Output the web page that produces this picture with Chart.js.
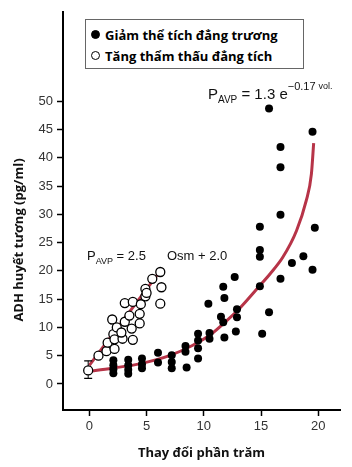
<!DOCTYPE html>
<html>
<head>
<meta charset="utf-8">
<script src="https://cdn.jsdelivr.net/npm/chart.js@4"></script>
<style>
  html, body { margin: 0; padding: 0; background: #fff; }
  #wrap { position: relative; width: 352px; height: 467px; }
  #legend {
    position: absolute; left: 85px; top: 19px; width: 219px; height: 50px;
    border: 1px solid #666; background: #fff; box-sizing: border-box;
    font: bold 13px "Open Sans", sans-serif; color: #000;
  }
  #legend div { position: absolute; left: 19px; white-space: nowrap; line-height: 20px; }
  #legend span {
    position: absolute; left: -14px; top: 5px; width: 9px; height: 9px;
    border-radius: 50%; box-sizing: border-box; border: 1.3px solid #000;
  }
</style>
</head>
<body>
<div id="wrap">
  <canvas id="chart" width="352" height="467"></canvas>
  <div id="legend">
    <div style="top:5px"><span style="background:#000"></span>Giảm thể tích đẳng trương</div>
    <div style="top:26px"><span style="background:#fff"></span>Tăng thẩm thấu đẳng tích</div>
  </div>
</div>
<script>
// Reference data
const xTicks = [0, 5, 10, 15, 20];
const yTicks = [0, 5, 10, 15, 20, 25, 30, 35, 40, 45, 50];

// isovolemic (volume decrease) - filled dots
const volumePts = [
  [2.1, 4.2], [2.1, 3.3], [2.1, 2.6], [2.1, 1.9],
  [3.4, 4.3], [3.4, 3.3], [3.4, 2.5], [3.4, 1.8],
  [4.6, 4.5], [4.6, 3.5], [4.6, 2.8],
  [6.0, 5.5], [6.0, 3.8],
  [7.2, 5.1], [7.2, 3.9], [7.2, 2.8],
  [8.5, 2.9], [8.4, 6.7], [8.4, 5.7],
  [9.5, 8.9], [9.5, 7.7], [9.5, 6.3], [9.5, 4.5],
  [10.4, 14.2], [10.5, 9.0], [10.5, 8.0],
  [11.7, 17.2], [11.8, 15.2], [11.5, 11.9], [11.7, 10.9], [11.8, 8.2],
  [12.7, 18.9], [12.9, 13.2], [12.9, 11.8], [12.8, 9.3],
  [14.9, 27.8], [14.9, 23.7], [14.9, 22.5], [14.9, 17.3], [15.1, 8.9], [15.7, 12.7],
  [15.7, 48.7], [16.7, 41.9], [16.7, 38.3], [16.7, 29.9], [16.7, 18.6],
  [17.7, 21.4], [18.7, 22.6], [19.5, 44.6], [19.7, 27.6], [19.5, 20.2]
];

// isotonic osmolality increase - open circles
const osmPts = [
  [-0.1, 2.4], [0.8, 5.0], [1.5, 5.8], [1.6, 7.3], [2.2, 6.2],
  [2.1, 8.8], [2.2, 7.9], [2.0, 11.4], [2.4, 10.0], [2.9, 8.0], [2.8, 9.1],
  [3.1, 11.0], [3.1, 14.3], [3.8, 14.5], [3.5, 12.1], [3.7, 9.8], [3.8, 7.8],
  [4.4, 12.4], [4.4, 10.7], [4.5, 14.1], [4.9, 15.5], [4.9, 16.8], [5.0, 16.1],
  [5.5, 18.6], [6.2, 19.8], [6.3, 17.1], [6.2, 14.2]
];

// fitted curves
const volumeFit = [
  [-0.2, 2.2], [2, 2.8], [4.5, 3.6], [7, 5.0], [9, 6.8], [10.5, 8.6],
  [12, 11.2], [13.1, 13.3], [14.9, 17.4], [15.8, 19.5], [16.9, 22.4],
  [18.1, 27.1], [18.95, 32.4], [19.4, 37.1], [19.6, 42.6]
];
const osmFit = [[0, 3.3], [6.2, 20.0]];

// error bar at baseline
const errorBar = [[-0.1, 1.0], [-0.1, 4.1]];

const RED = 'rgb(183, 52, 72)';
const FONT = '"Liberation Sans", Arial, sans-serif';
const toXY = arr => arr.map(p => ({ x: p[0], y: p[1] }));

// draw text pieces one after another: [text, size, baseline shift]
function drawRun(ctx, x, y, parts) {
  parts.forEach(([txt, size, dy]) => {
    ctx.font = size + 'px ' + FONT;
    ctx.fillText(txt, x, y + dy);
    x += ctx.measureText(txt).width;
  });
}

const annotations = {
  id: 'annotations',
  afterDraw(chart) {
    const ctx = chart.ctx;
    ctx.save();
    ctx.fillStyle = '#111';
    ctx.textBaseline = 'alphabetic';
    ctx.textAlign = 'left';

    // upper right formula
    drawRun(ctx, 208, 99, [
      ['P', 15, 0], ['AVP', 10, 4], [' = 1.3 e', 15, 0],
      ['\u22120.17 ', 11, -9], ['vol.', 9, -10]
    ]);

    // left formula
    drawRun(ctx, 87, 260, [['P', 13, 0], ['AVP', 9, 4], [' = 2.5', 13, 0]]);
    drawRun(ctx, 167, 260, [['Osm + 2.0', 13, 0]]);

    // y axis title
    ctx.translate(19, 240);
    ctx.rotate(-Math.PI / 2);
    ctx.textAlign = 'center';
    ctx.textBaseline = 'middle';
    ctx.font = 'bold 13px "Open Sans", sans-serif';
    ctx.fillText('ADH huyết tương (pg/ml)', 0, 0);
    ctx.restore();
  }
};

new Chart(document.getElementById('chart'), {
  type: 'scatter',
  data: {
    datasets: [
      {
        type: 'line',
        data: toXY(volumeFit),
        borderColor: RED,
        borderWidth: 3,
        pointRadius: 0,
        tension: 0.4,
        cubicInterpolationMode: 'monotone',
        order: 3
      },
      {
        type: 'line',
        data: toXY(osmFit),
        borderColor: RED,
        borderWidth: 3,
        pointRadius: 0,
        order: 3
      },
      {
        type: 'line',
        data: toXY(errorBar),
        borderColor: '#000',
        borderWidth: 1,
        pointStyle: 'line',
        pointRadius: 4,
        pointBorderColor: '#000',
        pointBorderWidth: 1.2,
        order: 2
      },
      {
        data: toXY(volumePts),
        backgroundColor: '#000',
        borderColor: '#000',
        pointRadius: 4,
        borderWidth: 0,
        order: 1
      },
      {
        data: toXY(osmPts),
        backgroundColor: '#fff',
        borderColor: '#000',
        pointRadius: 4.5,
        borderWidth: 1.3,
        order: 0
      }
    ]
  },
  options: {
    responsive: false,
    animation: false,
    layout: { padding: { left: 0, right: 12, top: 8, bottom: 0 } },
    plugins: {
      legend: { display: false },
      tooltip: { enabled: false }
    },
    scales: {
      x: {
        type: 'linear',
        min: -2.3,
        max: 21.9,
        afterBuildTicks: s => { s.ticks = xTicks.map(v => ({ value: v })); },
        afterFit: s => { s.height = 57; },
        ticks: {
          color: '#333',
          padding: 3,
          font: { family: FONT, size: 13 }
        },
        grid: { drawOnChartArea: false, drawTicks: true, tickLength: 6, tickColor: '#000', tickWidth: 1.5 },
        border: { display: true, color: '#000', width: 2 },
        title: {
          display: true,
          text: 'Thay đổi phần trăm',
          color: '#111',
          padding: { top: 4, bottom: 6 },
          font: { family: '"Open Sans", sans-serif', size: 13, weight: 'bold' }
        }
      },
      y: {
        type: 'linear',
        min: -4.6,
        max: 65.8,
        afterBuildTicks: s => { s.ticks = yTicks.map(v => ({ value: v })); },
        afterFit: s => { s.width = 63; },
        ticks: {
          color: '#333',
          padding: 4,
          font: { family: FONT, size: 13 }
        },
        grid: { drawOnChartArea: false, drawTicks: true, tickLength: 6, tickColor: '#000', tickWidth: 1.5 },
        border: { display: true, color: '#000', width: 2 }
      }
    }
  },
  plugins: [annotations]
});
</script>
</body>
</html>
